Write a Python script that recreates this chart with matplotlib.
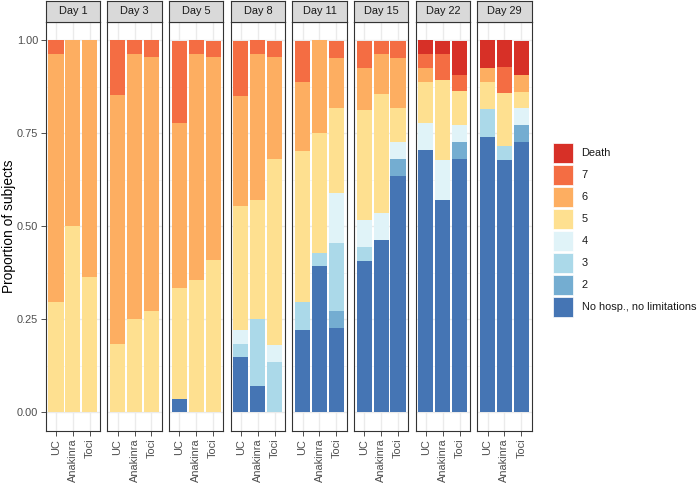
import matplotlib
matplotlib.use("Agg")
import matplotlib.pyplot as plt
from matplotlib.patches import Rectangle
import numpy as np

plt.rcParams["font.family"] = ["Liberation Sans", "DejaVu Sans"]

days = ["Day 1", "Day 3", "Day 5", "Day 8", "Day 11", "Day 15", "Day 22", "Day 29"]
arms = ["UC", "Anakinra", "Toci"]

# proportions, ordered day by day (UC, Anakinra, Toci), bottom category first
nohosp = [0, 0, 0, 0, 0, 0, .037, 0, 0, .148, .071, 0, .222, .393, .227,
          .407, .464, .636, .704, .571, .682, .741, .679, .727]
cat2 = [0, 0, 0, 0, 0, 0, 0, 0, 0, 0, 0, 0, 0, 0, .045,
        0, 0, .045, 0, 0, .045, 0, 0, .045]
cat3 = [0, 0, 0, 0, 0, 0, 0, 0, 0, .037, .179, .136, .074, .036, .182,
        .037, 0, 0, 0, 0, 0, .074, .036, 0]
cat4 = [0, 0, 0, 0, 0, 0, 0, 0, 0, .037, 0, .045, 0, 0, .136,
        .074, .071, .045, .074, .107, .045, 0, 0, .045]
cat5 = [.296, .5, .364, .185, .25, .273, .296, .357, .409, .333, .321, .5, .407, .321, .227,
        .296, .321, .091, .111, .214, .091, .074, .143, .045]
cat6 = [.667, .5, .636, .667, .714, .682, .444, .607, .545, .296, .393, .273, .185, .25, .136,
        .111, .107, .136, .037, 0, 0, .037, 0, .045]
cat7 = [.037, 0, 0, .148, .036, .045, .222, .036, .045, .148, .036, .045, .111, 0, .045,
        .074, .036, .045, .037, .071, .045, 0, .071, 0]
death = [0, 0, 0, 0, 0, 0, 0, 0, 0, 0, 0, 0, 0, 0, 0,
         0, 0, 0, .037, .036, .091, .074, .071, .091]

cat_labels = ["No hosp., no limitations", "2", "3", "4", "5", "6", "7", "Death"]
cat_values = [nohosp, cat2, cat3, cat4, cat5, cat6, cat7, death]
cat_colors = ["#4575B4", "#74ADD1", "#ABD9E9", "#E0F3F8", "#FEE090", "#FDAE61", "#F46D43", "#D73027"]

W, H = 700, 483
fig = plt.figure(figsize=(W / 100, H / 100), dpi=100)
fig.patch.set_facecolor("white")

def fx(px):
    return px / W

def fy(py):
    return 1 - py / H

panel_left0 = 45.7
pitch = 61.66
pw = 54.3
ptop, pbot = 21.7, 431.0
strip_top = 1.0
edge = "#333333"
txtc = "#4D4D4D"
fs = 7.9

for i, day in enumerate(days):
    left = panel_left0 + i * pitch
    ax = fig.add_axes([fx(left), fy(pbot), pw / W, (pbot - ptop) / H])
    ax.set_xlim(0.4, 3.6)
    ax.set_ylim(-0.05, 1.05)
    # grid
    for yv in [0.125, 0.375, 0.625, 0.875]:
        ax.axhline(yv, color="#F2F2F2", lw=0.5, zorder=0)
    for yv in [0, 0.25, 0.5, 0.75, 1.0]:
        ax.axhline(yv, color="#EBEBEB", lw=1.0, zorder=0)
    for xv in [1, 2, 3]:
        ax.axvline(xv, color="#EBEBEB", lw=1.0, zorder=0)
    x = np.arange(1, 4)
    bottom = np.zeros(3)
    for vals, col in zip(cat_values, cat_colors):
        v = np.array(vals[i * 3:(i + 1) * 3], dtype=float)
        ax.bar(x, v, width=0.9, bottom=bottom, color=col, edgecolor="none", zorder=2)
        bottom += v
    for s in ax.spines.values():
        s.set_color(edge)
        s.set_linewidth(0.8)
    ax.set_xticks(x)
    ax.set_xticklabels(arms, rotation=90, fontsize=fs, color=txtc)
    ax.tick_params(axis="x", length=3.5, width=0.6, color=edge, pad=2)
    ax.set_yticks([0, 0.25, 0.5, 0.75, 1.0])
    if i == 0:
        ax.set_yticklabels(["0.00", "0.25", "0.50", "0.75", "1.00"], fontsize=fs, color=txtc)
        ax.tick_params(axis="y", length=3.5, width=0.6, color=edge, pad=2)
    else:
        ax.tick_params(axis="y", length=0, labelleft=False)
    # strip
    sax = fig.add_axes([fx(left), fy(ptop), pw / W, (ptop - strip_top) / H])
    sax.set_facecolor("#D9D9D9")
    sax.set_xticks([])
    sax.set_yticks([])
    for s in sax.spines.values():
        s.set_color(edge)
        s.set_linewidth(0.8)
    sax.text(0.5, 0.5, day, ha="center", va="center", fontsize=fs, color="#1A1A1A",
             transform=sax.transAxes)

fig.text(fx(9), fy(226.4), "Proportion of subjects", rotation=90, ha="center", va="center",
         fontsize=9.9, color="black")

# legend
lax = fig.add_axes([0, 0, 1, 1])
lax.set_xlim(0, W)
lax.set_ylim(H, 0)
lax.axis("off")
key_x, key_w, key_h = 553.3, 20, 20
key_y0 = 143.3
key_step = 22.0
for j, (lab, col) in enumerate(zip(cat_labels[::-1], cat_colors[::-1])):
    y0 = key_y0 + j * key_step
    lax.add_patch(Rectangle((key_x, y0), key_w, key_h, facecolor=col, edgecolor="white", lw=0.5))
    lax.text(581.5, y0 + key_h / 2, lab, ha="left", va="center", fontsize=fs, color="#1A1A1A")

fig.savefig("out.png", dpi=100)
